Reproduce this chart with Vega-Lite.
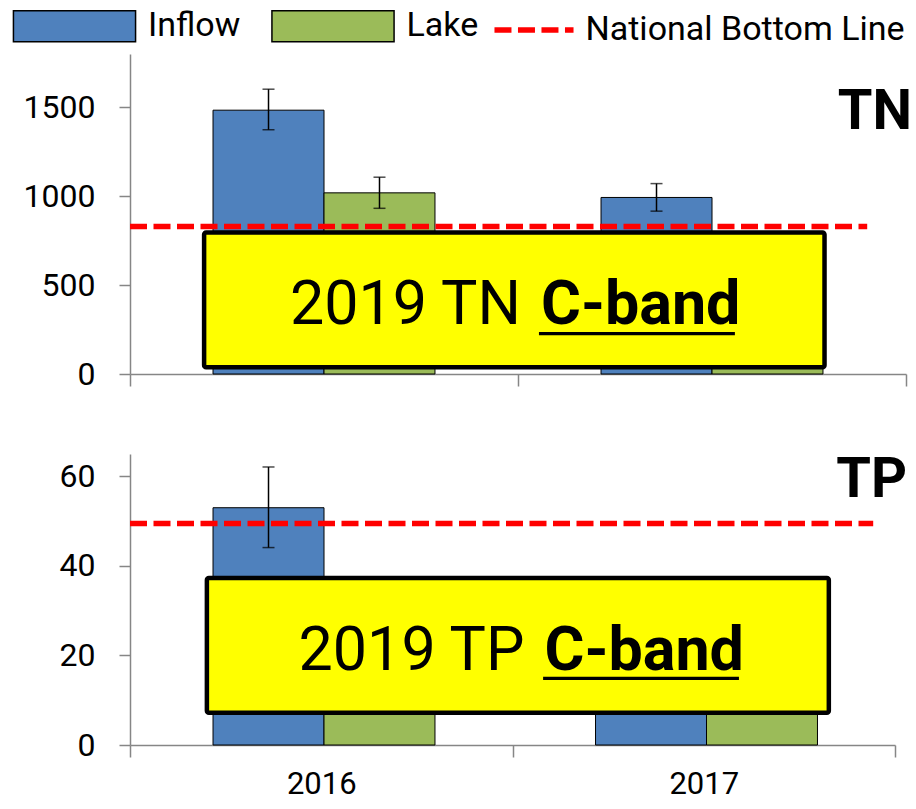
{
  "$schema": "https://vega.github.io/schema/vega-lite/v6.json",
  "background": "white",
  "padding": {"left": 23, "top": 9, "right": 0, "bottom": 5},
  "config": {
    "font": "Roboto",
    "view": {"stroke": null},
    "axis": {"labelFont": "Roboto", "labelFontSize": 32, "labelColor": "black", "domainColor": "#868686", "tickColor": "#868686", "domainWidth": 1.5, "tickWidth": 1.5, "grid": false, "title": null},
    "legend": {"labelFont": "Roboto", "labelFontSize": 34, "labelColor": "black", "padding": 0, "title": null, "labelLimit": 0}
  },
  "datasets": {
    "tn": [
      {"year": "2016", "series": "Inflow", "value": 1484, "lo": 1374, "hi": 1602},
      {"year": "2016", "series": "Lake", "value": 1019, "lo": 932, "hi": 1107},
      {"year": "2017", "series": "Inflow", "value": 993, "lo": 916, "hi": 1071},
      {"year": "2017", "series": "Lake", "value": 700, "lo": 640, "hi": 760}
    ],
    "tp": [
      {"year": "2016", "series": "Inflow", "value": 53, "lo": 44.1, "hi": 62.1},
      {"year": "2016", "series": "Lake", "value": 25, "lo": 21, "hi": 29},
      {"year": "2017", "series": "Inflow", "value": 30, "lo": 25, "hi": 35},
      {"year": "2017", "series": "Lake", "value": 22, "lo": 18, "hi": 26}
    ],
    "tnline": [{"name": "National Bottom Line", "value": 830}],
    "tpline": [{"name": "National Bottom Line", "value": 49.5}],
    "tnnote": [{"plain": "2019 TN", "bold": "C-band"}],
    "tpnote": [{"plain": "2019 TP", "bold": "C-band"}]
  },
  "vconcat": [
    {
      "width": 776,
      "height": 320,
      "title": {"text": "TN", "orient": "top", "anchor": "end", "frame": "group", "offset": -131, "baseline": "alphabetic", "fontSize": 56, "fontWeight": "bold", "font": "Roboto", "dx": 6, "color": "black"},
      "layer": [
        {
          "data": {"name": "tn"},
          "mark": {"type": "bar", "stroke": "black", "strokeWidth": 1},
          "encoding": {
            "x": {"field": "year", "type": "nominal", "scale": {"paddingInner": 0, "paddingOuter": 0}, "axis": {"labels": false, "tickBand": "extent", "tickSize": 12}},
            "xOffset": {"field": "series", "type": "nominal", "sort": ["Inflow", "Lake"], "scale": {"paddingInner": 0, "paddingOuter": 0.748}},
            "y": {"field": "value", "type": "quantitative", "scale": {"domain": [0, 1800], "nice": false}, "axis": {"values": [0, 500, 1000, 1500], "format": "d", "tickSize": 11, "labelPadding": 24}},
            "fill": {"field": "series", "type": "nominal", "scale": {"domain": ["Inflow", "Lake"], "range": ["#4F81BD", "#9BBB59"]},
              "legend": {"orient": "none", "legendX": -72.5, "legendY": -45, "direction": "horizontal", "symbolType": "M-3.94,-1H3.94V1H-3.94Z", "symbolSize": 961, "symbolStrokeColor": "black", "symbolStrokeWidth": 1.5, "labelOffset": 56.5, "columnPadding": 27.5}}
          }
        },
        {
          "data": {"name": "tn"},
          "mark": {"type": "rule", "color": "black", "strokeWidth": 1.5},
          "encoding": {
            "x": {"field": "year", "type": "nominal"},
            "xOffset": {"field": "series", "type": "nominal", "sort": ["Inflow", "Lake"]},
            "y": {"field": "lo", "type": "quantitative"},
            "y2": {"field": "hi"}
          }
        },
        {
          "data": {"name": "tn"},
          "mark": {"type": "tick", "color": "black", "size": 12, "thickness": 1.5},
          "encoding": {
            "x": {"field": "year", "type": "nominal"},
            "xOffset": {"field": "series", "type": "nominal", "sort": ["Inflow", "Lake"]},
            "y": {"field": "lo", "type": "quantitative"}
          }
        },
        {
          "data": {"name": "tn"},
          "mark": {"type": "tick", "color": "black", "size": 12, "thickness": 1.5},
          "encoding": {
            "x": {"field": "year", "type": "nominal"},
            "xOffset": {"field": "series", "type": "nominal", "sort": ["Inflow", "Lake"]},
            "y": {"field": "hi", "type": "quantitative"}
          }
        },
        {
          "data": {"name": "tnline"},
          "mark": {"type": "rule", "strokeWidth": 5.5, "strokeDash": [17, 6.5]},
          "encoding": {
            "x": {"datum": "2016", "bandPosition": 0},
            "x2": {"datum": "2017", "bandPosition": 0.9},
            "y": {"field": "value", "type": "quantitative"},
            "stroke": {"field": "name", "type": "nominal", "scale": {"range": ["#FF0000"]},
              "legend": {"orient": "none", "legendX": 385.5, "legendY": -42.5, "direction": "horizontal", "symbolType": "M-2.55,0H2.55", "symbolSize": 961, "symbolStrokeWidth": 5.5, "symbolDash": [17, 6.5], "labelOffset": 33}}
          }
        },
        {
          "data": {"name": "tnnote"},
          "mark": {"type": "rect", "fill": "#FFFF00", "stroke": "black", "strokeWidth": 4.5, "cornerRadius": 2},
          "encoding": {
            "x": {"datum": "2016", "bandPosition": 0.191},
            "x2": {"datum": "2017", "bandPosition": 0.79},
            "y": {"datum": 796, "type": "quantitative"},
            "y2": {"datum": 38}
          }
        },
        {
          "data": {"name": "tnnote"},
          "mark": {"type": "text", "align": "right", "baseline": "alphabetic", "fontSize": 61, "font": "Roboto", "color": "black", "dx": 3},
          "encoding": {
            "x": {"datum": "2017", "bandPosition": 0},
            "y": {"datum": 283, "type": "quantitative"},
            "text": {"field": "plain"}
          }
        },
        {
          "data": {"name": "tnnote"},
          "mark": {"type": "text", "align": "left", "baseline": "alphabetic", "fontSize": 61, "fontWeight": "bold", "font": "Roboto", "color": "black", "dx": 23},
          "encoding": {
            "x": {"datum": "2017", "bandPosition": 0},
            "y": {"datum": 283, "type": "quantitative"},
            "text": {"field": "bold"}
          }
        },
        {
          "data": {"name": "tnnote"},
          "mark": {"type": "rule", "color": "black", "strokeWidth": 3.3},
          "encoding": {
            "x": {"datum": "2017", "bandPosition": 0.054},
            "x2": {"datum": "2017", "bandPosition": 0.559},
            "y": {"datum": 227, "type": "quantitative"}
          }
        }
      ]
    },
    {
      "width": 765,
      "height": 291,
      "title": {"text": "TP", "orient": "top", "anchor": "end", "frame": "group", "offset": -99, "baseline": "alphabetic", "fontSize": 56, "fontWeight": "bold", "font": "Roboto", "dx": 12, "color": "black"},
      "layer": [
        {
          "data": {"name": "tp"},
          "mark": {"type": "bar", "stroke": "black", "strokeWidth": 1},
          "encoding": {
            "x": {"field": "year", "type": "nominal", "scale": {"paddingInner": 0, "paddingOuter": 0}, "axis": {"labelAngle": 0, "tickBand": "extent", "tickSize": 12, "labelPadding": 12, "labelFontSize": 31}},
            "xOffset": {"field": "series", "type": "nominal", "sort": ["Inflow", "Lake"], "scale": {"paddingInner": 0, "paddingOuter": 0.748}},
            "y": {"field": "value", "type": "quantitative", "scale": {"domain": [0, 65], "nice": false}, "axis": {"values": [0, 20, 40, 60], "tickSize": 11, "labelPadding": 24}},
            "fill": {"field": "series", "type": "nominal", "scale": {"domain": ["Inflow", "Lake"], "range": ["#4F81BD", "#9BBB59"]}}
          }
        },
        {
          "data": {"name": "tp"},
          "mark": {"type": "rule", "color": "black", "strokeWidth": 1.5},
          "encoding": {
            "x": {"field": "year", "type": "nominal"},
            "xOffset": {"field": "series", "type": "nominal", "sort": ["Inflow", "Lake"]},
            "y": {"field": "lo", "type": "quantitative"},
            "y2": {"field": "hi"}
          }
        },
        {
          "data": {"name": "tp"},
          "mark": {"type": "tick", "color": "black", "size": 12, "thickness": 1.5},
          "encoding": {
            "x": {"field": "year", "type": "nominal"},
            "xOffset": {"field": "series", "type": "nominal", "sort": ["Inflow", "Lake"]},
            "y": {"field": "lo", "type": "quantitative"}
          }
        },
        {
          "data": {"name": "tp"},
          "mark": {"type": "tick", "color": "black", "size": 12, "thickness": 1.5},
          "encoding": {
            "x": {"field": "year", "type": "nominal"},
            "xOffset": {"field": "series", "type": "nominal", "sort": ["Inflow", "Lake"]},
            "y": {"field": "hi", "type": "quantitative"}
          }
        },
        {
          "data": {"name": "tpline"},
          "mark": {"type": "rule", "strokeWidth": 5.5, "strokeDash": [17, 6.5]},
          "encoding": {
            "x": {"datum": "2016", "bandPosition": 0},
            "x2": {"datum": "2017", "bandPosition": 0.943},
            "y": {"field": "value", "type": "quantitative"},
            "stroke": {"field": "name", "type": "nominal", "scale": {"range": ["#FF0000"]}}
          }
        },
        {
          "data": {"name": "tpnote"},
          "mark": {"type": "rect", "fill": "#FFFF00", "stroke": "black", "strokeWidth": 4.5, "cornerRadius": 2},
          "encoding": {
            "x": {"datum": "2016", "bandPosition": 0.201},
            "x2": {"datum": "2017", "bandPosition": 0.827},
            "y": {"datum": 37.3, "type": "quantitative"},
            "y2": {"datum": 7.2}
          }
        },
        {
          "data": {"name": "tpnote"},
          "mark": {"type": "text", "align": "right", "baseline": "alphabetic", "fontSize": 61, "font": "Roboto", "color": "black", "dx": 12},
          "encoding": {
            "x": {"datum": "2017", "bandPosition": 0},
            "y": {"datum": 16.7, "type": "quantitative"},
            "text": {"field": "plain"}
          }
        },
        {
          "data": {"name": "tpnote"},
          "mark": {"type": "text", "align": "left", "baseline": "alphabetic", "fontSize": 61, "fontWeight": "bold", "font": "Roboto", "color": "black", "dx": 32},
          "encoding": {
            "x": {"datum": "2017", "bandPosition": 0},
            "y": {"datum": 16.7, "type": "quantitative"},
            "text": {"field": "bold"}
          }
        },
        {
          "data": {"name": "tpnote"},
          "mark": {"type": "rule", "color": "black", "strokeWidth": 3.3},
          "encoding": {
            "x": {"datum": "2017", "bandPosition": 0.08},
            "x2": {"datum": "2017", "bandPosition": 0.592},
            "y": {"datum": 14.9, "type": "quantitative"}
          }
        }
      ]
    }
  ],
  "spacing": 80,
  "bounds": "flush"
}
